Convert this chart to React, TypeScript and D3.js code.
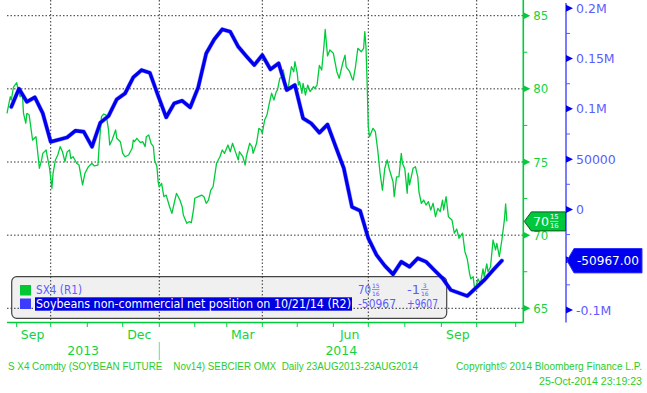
import React from "react";
import * as d3 from "d3";

// ---------------- DATA ----------------
const greenSeries: [string, number][] = [
["2013-08-23",78.33],["2013-08-26",79.46],["2013-08-27",79.24],["2013-08-29",80.11],["2013-09-01",80.42],["2013-09-02",80.04],["2013-09-04",79.46],["2013-09-06",79.70],["2013-09-07",78.33],["2013-09-09",77.65],["2013-09-10",78.33],["2013-09-12",78.21],["2013-09-14",77.07],["2013-09-15",76.50],["2013-09-18",76.73],["2013-09-19",76.05],["2013-09-21",74.57],["2013-09-23",75.14],["2013-09-24",75.59],["2013-09-27",75.82],["2013-09-28",75.36],["2013-09-30",74.57],
["2013-10-02",73.20],["2013-10-03",74.23],["2013-10-05",75.14],["2013-10-07",75.48],["2013-10-09",76.05],["2013-10-11",75.70],["2013-10-13",75.02],["2013-10-15",75.70],["2013-10-17",75.82],["2013-10-18",75.25],["2013-10-20",75.36],["2013-10-23",74.91],["2013-10-25",74.79],["2013-10-28",73.43],["2013-10-30",74.23],["2013-11-02",74.68],["2013-11-05",74.91],["2013-11-07",74.73],["2013-11-10",74.79],["2013-11-11",76.05],["2013-11-13",78.10],["2013-11-15",78.28],["2013-11-17",78.21],["2013-11-19",77.19],["2013-11-20",76.16],["2013-11-22",76.50],["2013-11-25",77.19],["2013-11-26",76.62],["2013-11-29",76.39],["2013-12-01",75.59],["2013-12-03",75.36],["2013-12-06",75.48],["2013-12-09",75.94],["2013-12-10",76.50],["2013-12-11",76.39],["2013-12-13",76.62],["2013-12-16",76.32],["2013-12-18",76.39],["2013-12-20",76.05],["2013-12-21",76.73],["2013-12-23",76.85],["2013-12-25",76.28],["2013-12-27",76.05],["2013-12-28",75.14],["2013-12-30",74.68],["2013-12-31",73.65],
["2014-01-01",73.29],["2014-01-03",73.54],["2014-01-05",72.63],["2014-01-07",72.74],["2014-01-10",71.94],["2014-01-12",71.49],["2014-01-14",72.18],["2014-01-16",72.86],["2014-01-19",72.40],["2014-01-21",71.94],["2014-01-22",71.38],["2014-01-25",70.81],["2014-01-27",70.92],["2014-01-29",70.85],["2014-01-31",71.79],["2014-02-01",72.52],["2014-02-04",72.63],["2014-02-07",72.74],["2014-02-09",72.63],["2014-02-11",72.18],["2014-02-13",72.40],["2014-02-15",73.08],["2014-02-17",73.31],["2014-02-20",74.91],["2014-02-23",75.36],["2014-02-25",75.82],["2014-02-27",75.59],["2014-03-02",76.16],["2014-03-04",75.70],["2014-03-06",76.28],["2014-03-09",75.59],["2014-03-11",75.14],["2014-03-12",75.70],["2014-03-15",75.36],["2014-03-17",74.79],["2014-03-18",75.36],["2014-03-21",76.28],["2014-03-23",76.05],["2014-03-24",75.59],["2014-03-27",76.28],["2014-03-29",77.30],["2014-03-31",77.19],
["2014-04-01",76.96],["2014-04-03",77.87],["2014-04-05",78.21],["2014-04-07",79.01],["2014-04-09",79.70],["2014-04-11",79.24],["2014-04-13",79.81],["2014-04-14",79.92],["2014-04-16",80.72],["2014-04-18",80.83],["2014-04-19",81.29],["2014-04-21",80.38],["2014-04-23",79.92],["2014-04-24",80.49],["2014-04-26",81.51],["2014-04-28",81.17],["2014-04-29",81.86],["2014-05-01",81.06],["2014-05-02",80.26],["2014-05-03",80.49],["2014-05-05",79.70],["2014-05-06",80.38],["2014-05-08",79.58],["2014-05-10",80.26],["2014-05-12",79.81],["2014-05-15",80.15],["2014-05-16",80.04],["2014-05-18",80.26],["2014-05-20",81.60],["2014-05-22",81.29],["2014-05-24",83.00],["2014-05-25",84.06],["2014-05-27",82.25],["2014-05-29",82.66],["2014-06-01",82.43],["2014-06-04",81.17],["2014-06-06",80.72],["2014-06-09",81.75],["2014-06-11",82.31],["2014-06-12",81.51],["2014-06-15",81.17],["2014-06-17",80.72],["2014-06-18",80.60],["2014-06-20",81.51],["2014-06-22",82.77],["2014-06-25",82.54],["2014-06-27",82.77],["2014-06-28",83.91],["2014-06-29",82.88],["2014-06-30",80.38],
["2014-07-01",77.41],["2014-07-02",76.73],["2014-07-05",77.30],["2014-07-07",77.07],["2014-07-09",75.82],["2014-07-11",74.23],["2014-07-13",73.08],["2014-07-15",74.57],["2014-07-17",75.14],["2014-07-19",74.45],["2014-07-22",73.65],["2014-07-23",72.63],["2014-07-25",73.99],["2014-07-27",73.99],["2014-07-29",75.59],["2014-07-30",74.91],["2014-08-01",74.53],["2014-08-03",72.86],["2014-08-04",74.23],["2014-08-05",73.43],["2014-08-08",74.57],["2014-08-10",74.68],["2014-08-12",73.99],["2014-08-13",72.95],["2014-08-15",72.18],["2014-08-17",72.40],["2014-08-19",72.06],["2014-08-21",72.29],["2014-08-23",71.72],["2014-08-25",72.18],["2014-08-27",71.26],["2014-08-29",71.83],["2014-08-31",71.60],["2014-09-02",72.40],["2014-09-03",71.72],["2014-09-05",72.63],["2014-09-07",71.26],["2014-09-10",71.04],["2014-09-12",70.13],["2014-09-14",70.42],["2014-09-16",69.79],["2014-09-19",70.13],["2014-09-21",68.87],["2014-09-23",68.37],["2014-09-25",67.35],["2014-09-26",67.01],["2014-09-28",67.16],["2014-09-29",66.48],["2014-09-30",66.32],["2014-10-02",67.01],["2014-10-04",66.67],["2014-10-06",67.69],["2014-10-07",67.16],["2014-10-09",68.04],["2014-10-10",67.50],["2014-10-12",67.84],["2014-10-14",69.67],["2014-10-16",68.99],["2014-10-17",69.44],["2014-10-19",68.53],["2014-10-21",69.67],["2014-10-23",71.04],["2014-10-24",72.13],["2014-10-25",70.94]
];

const blueDates: string[] = [
"2013-08-27","2013-09-03","2013-09-10","2013-09-17","2013-09-24","2013-10-01","2013-10-08","2013-10-15","2013-10-22","2013-10-29",
"2013-11-05","2013-11-12","2013-11-19","2013-11-26","2013-12-03","2013-12-10","2013-12-17","2013-12-24","2013-12-31","2014-01-07",
"2014-01-14","2014-01-21","2014-01-28","2014-02-04","2014-02-11","2014-02-18","2014-02-25","2014-03-04","2014-03-11","2014-03-18",
"2014-03-25","2014-04-01","2014-04-08","2014-04-15","2014-04-22","2014-04-29","2014-05-06","2014-05-13","2014-05-20","2014-05-27",
"2014-06-03","2014-06-10","2014-06-17","2014-06-24","2014-07-01","2014-07-08","2014-07-15","2014-07-22","2014-07-29","2014-08-05",
"2014-08-12","2014-08-19","2014-08-26","2014-09-02","2014-09-09","2014-09-16","2014-09-23","2014-09-30","2014-10-07","2014-10-14",
"2014-10-21"
];
const blueValues: number[] = [
102000,120000,107000,111500,95600,67300,69500,71700,78300,77300,
62300,86200,92900,109500,115400,131400,138600,135900,113000,91600,
105500,108100,101500,121400,155200,169100,179100,176700,161800,152500,
143600,153500,139300,145300,118700,123700,90600,85600,76300,84400,
62500,40900,2400,-1300,-28700,-45300,-56000,-64500,-52000,-57000,
-48600,-52000,-60300,-68500,-80100,-83100,-86100,-78400,-70200,-60300,
-50967
];

const greenTicks = [65, 70, 75, 80, 85];
const greenMinorTicks = [67.5, 72.5, 77.5, 82.5];
const blueTicks = [-100000, -50000, 0, 50000, 100000, 150000, 200000];
// the -50000 label is hidden behind the last-value callout in the reference
const blueTickLabels = ["-0.1M", "", "0", "50000", "0.1M", "0.15M", "0.2M"];
const blueMinorTicks = [-75000, -25000, 25000, 75000, 125000, 175000];
const gridDates = ["2013-10-01", "2014-01-01", "2014-04-01", "2014-07-01", "2014-10-01"];
const monthLabels: [string, string][] = [["2013-09-15", "Sep"], ["2013-12-15", "Dec"], ["2014-03-15", "Mar"], ["2014-06-15", "Jun"], ["2014-09-15", "Sep"]];
const yearLabels: [string, string, string][] = [["2013-08-23", "2014-01-01", "2013"], ["2014-01-01", "2014-11-07", "2014"]];
const legendNames = ["SX4 (R1)", "Soybeans non-commercial net position on 10/21/14 (R2)"];
const lastGreenText = { whole: "70", num: "15", den: "16" };
const changeGreenText = { whole: "-1", num: "3", den: "16" };
const lastBlueText = "-50967";
const changeBlueText = "+9607";
const lastBlueCallout = "-50967.00";
const footerLeft = "S X4 Comdty (SOYBEAN FUTURE    Nov14) SEBCIER OMX  Daily 23AUG2013-23AUG2014";
const footerRight1 = "Copyright\u00A9 2014 Bloomberg Finance L.P.";
const footerRight2 = "25-Oct-2014 23:19:23";

// ---------------- LAYOUT ----------------
const W = 647, H = 393;
const LEFT = 7, RIGHT = 523.3, TOP = 0, BOTTOM = 322.5;
const BLUE_AXIS_X = 566;
const FONT = "'DejaVu Sans', 'Liberation Sans', Arial, sans-serif";
const SMALL_FONT = "'Liberation Sans', Arial, sans-serif";
const GREEN = "#00cc3a";
const GREEN_TXT = "#16d23c";
const BLUE = "#0000ee";
const BLUE_TXT = "#5c5cff";

const parse = d3.timeParse("%Y-%m-%d");
const P = (s: string) => parse(s) as Date;

const x = d3.scaleTime()
  .domain(["2013-08-23", "2013-09-01", "2013-10-01", "2014-01-01", "2014-04-01", "2014-07-01", "2014-10-01", "2014-11-01", "2014-11-07"].map(P))
  .range([LEFT, 16.7, 50.7, 159.3, 262.3, 368.3, 476.7, 515.7, RIGHT]);
const yG = d3.scaleLinear().domain([65, 85]).range([308.3, 15.7]);
const yB = d3.scaleLinear().domain([-100000, 200000]).range([310, 8.3]);

const greenLine = d3.line<[string, number]>().x(d => x(P(d[0]))).y(d => yG(d[1]));
const blueData = blueDates.map((d, i) => ({ date: P(d), v: blueValues[i] }));
const blueLine = d3.line<{ date: Date; v: number }>().x(d => x(d.date)).y(d => yB(d.v));

const months = d3.timeMonth.range(P("2013-09-01"), P("2014-11-02"));

function Frac({ x0, y0, whole, num, den, fill, size, wholeW, fsK, up, down }: any) {
  const fx = x0 + wholeW + 1;
  const fs = size * fsK;
  const fw = fs * 0.62 * den.length;
  return (
    <g fill={fill}>
      <text x={x0} y={y0} fontSize={size} dominantBaseline="central" textLength={wholeW} lengthAdjust="spacingAndGlyphs">{whole}</text>
      <text x={fx + fw / 2} y={y0 - size * up} fontSize={fs} textAnchor="middle" dominantBaseline="central">{num}</text>
      <line x1={fx} x2={fx + fw} y1={y0} y2={y0} stroke={fill} strokeWidth={0.7} />
      <text x={fx + fw / 2} y={y0 + size * down} fontSize={fs} textAnchor="middle" dominantBaseline="central">{den}</text>
    </g>
  );
}

export default function App() {
  const lastG = greenSeries[greenSeries.length - 1][1];
  const lastB = blueValues[blueValues.length - 1];
  const gy = yG(lastG);
  const by = yB(lastB);
  return (
    <svg width={W} height={H} style={{ position: "absolute", left: 0, top: 0, background: "#fff" }} fontFamily={FONT}>
      <rect x={0} y={0} width={W} height={H} fill="#fff" />
      {/* legend background */}
      <rect x={11.7} y={276.7} width={435} height={41.6} rx={5} fill="#f0f0f0" stroke="#444" strokeWidth={1.2} />
      {/* gridlines */}
      <g stroke="#333" strokeWidth={1} strokeDasharray="1.5,2">
        {greenTicks.map(t => <line key={"h" + t} x1={LEFT} x2={RIGHT} y1={yG(t)} y2={yG(t)} />)}
        {gridDates.map(d => <line key={"v" + d} x1={x(P(d))} x2={x(P(d))} y1={TOP} y2={BOTTOM} />)}
      </g>
      {/* legend content */}
      <rect x={20} y={285} width={11} height={10.5} fill="#00c832" />
      <rect x={20} y={298.5} width={11} height={10.5} fill="#3c3cff" />
      <rect x={35} y={297.3} width={317} height={13.4} fill="#0000e0" />
      <text x={36} y={290.3} fontSize={11.5} fill={BLUE_TXT} dominantBaseline="central" textLength={46} lengthAdjust="spacingAndGlyphs">{legendNames[0]}</text>
      <text x={36} y={304.4} fontSize={11.5} fill="#fff" dominantBaseline="central" textLength={315} lengthAdjust="spacingAndGlyphs">{legendNames[1]}</text>
      <Frac x0={358} y0={289.5} {...lastGreenText} fill={BLUE_TXT} size={12} wholeW={13} fsK={0.5} up={0.3} down={0.31} />
      <Frac x0={407} y0={289.5} {...changeGreenText} fill={BLUE_TXT} size={12} wholeW={13} fsK={0.5} up={0.3} down={0.31} />
      <text x={358} y={304.4} fontSize={11.5} fill={BLUE_TXT} dominantBaseline="central" textLength={38} lengthAdjust="spacingAndGlyphs">{lastBlueText}</text>
      <text x={407} y={304.4} fontSize={11.5} fill={BLUE_TXT} dominantBaseline="central" textLength={31} lengthAdjust="spacingAndGlyphs">{changeBlueText}</text>
      {/* series */}
      <path d={greenLine(greenSeries) as string} fill="none" stroke={GREEN} strokeWidth={1.3} strokeLinejoin="round" />
      <path d={blueLine(blueData) as string} fill="none" stroke="#4848ff" strokeOpacity={0.5} strokeWidth={4.4} strokeLinejoin="round" strokeLinecap="round" />
      <path d={blueLine(blueData) as string} fill="none" stroke={BLUE} strokeWidth={3.4} strokeLinejoin="round" strokeLinecap="round" />
      {/* bottom axis */}
      <line x1={LEFT} x2={RIGHT} y1={BOTTOM} y2={BOTTOM} stroke={GREEN} strokeWidth={1.6} />
      {months.map(m => (
        <line key={+m} x1={x(m)} x2={x(m)} y1={BOTTOM} y2={BOTTOM + 4.5} stroke={GREEN} strokeWidth={1} />
      ))}
      {monthLabels.map(([d, l], i) => (
        <text key={i} x={x(P(d))} y={334.5} fontSize={12.5} fill={GREEN_TXT} textAnchor="middle" dominantBaseline="central">{l}</text>
      ))}
      {yearLabels.map(([a, b, l]) => (
        <text key={l} x={(x(P(a)) + x(P(b))) / 2} y={350.5} fontSize={12.5} fill={GREEN_TXT} textAnchor="middle" dominantBaseline="central">{l}</text>
      ))}
      <line x1={x(P("2014-01-01"))} x2={x(P("2014-01-01"))} y1={342} y2={360} stroke={GREEN} strokeOpacity={0.6} strokeWidth={1} />
      {/* green axis */}
      <line x1={RIGHT} x2={RIGHT} y1={TOP} y2={BOTTOM} stroke={GREEN} strokeWidth={1.6} />
      {greenTicks.map(t => (
        <g key={t}>
          <path d={`M${RIGHT},${yG(t) - 3.5}L${RIGHT + 7},${yG(t)}L${RIGHT},${yG(t) + 3.5}Z`} fill={GREEN} />
          <text x={RIGHT + 10} y={yG(t)} fontSize={13} fill={GREEN_TXT} dominantBaseline="central" textLength={15} lengthAdjust="spacingAndGlyphs">{t}</text>
        </g>
      ))}
      {greenMinorTicks.map(t => <line key={t} x1={RIGHT} x2={RIGHT + 4} y1={yG(t)} y2={yG(t)} stroke={GREEN} strokeWidth={1} />)}
      {/* blue axis */}
      <line x1={BLUE_AXIS_X} x2={BLUE_AXIS_X} y1={3} y2={BOTTOM} stroke="#5a5aff" strokeWidth={1.6} />
      {blueTicks.map((t, i) => (
        <g key={t}>
          <path d={`M${BLUE_AXIS_X},${yB(t) - 3.5}L${BLUE_AXIS_X + 7},${yB(t)}L${BLUE_AXIS_X},${yB(t) + 3.5}Z`} fill={BLUE} />
          {blueTickLabels[i] && (
            <text x={BLUE_AXIS_X + 10} y={yB(t)} fontSize={12.5} fill={BLUE_TXT} dominantBaseline="central">{blueTickLabels[i]}</text>
          )}
        </g>
      ))}
      {blueMinorTicks.map(t => <line key={t} x1={BLUE_AXIS_X} x2={BLUE_AXIS_X + 4} y1={yB(t)} y2={yB(t)} stroke="#5a5aff" strokeWidth={1} />)}
      {/* callouts */}
      <path d={`M${RIGHT + 1},${gy}L${RIGHT + 8},${gy - 9.5}L${BLUE_AXIS_X - 0.5},${gy - 9.5}L${BLUE_AXIS_X - 0.5},${gy + 9.5}L${RIGHT + 8},${gy + 9.5}Z`} fill="#00c83c" stroke="#0a5a1a" strokeWidth={1} />
      <Frac x0={533} y0={gy} {...lastGreenText} fill="#fff" size={13} wholeW={16} fsK={0.52} up={0.32} down={0.34} />
      <path d={`M${BLUE_AXIS_X + 1},${by}L${BLUE_AXIS_X + 8},${by - 12.2}L${642},${by - 12.2}L${642},${by + 12.2}L${BLUE_AXIS_X + 8},${by + 12.2}Z`} fill={BLUE} stroke="#3030ff" strokeWidth={1} strokeLinejoin="round" />
      <text x={577} y={by} fontSize={13} fill="#fff" dominantBaseline="central" textLength={62} lengthAdjust="spacingAndGlyphs">{lastBlueCallout}</text>
      {/* footer */}
      <g fontFamily={SMALL_FONT} fontSize={10} fill="#2ccc2c">
        <text x={8} y={366} dominantBaseline="central" style={{ whiteSpace: "pre" }} textLength={410} lengthAdjust="spacingAndGlyphs">{footerLeft}</text>
        <text x={456} y={366} dominantBaseline="central" textLength={186} lengthAdjust="spacingAndGlyphs">{footerRight1}</text>
        <text x={539} y={381} dominantBaseline="central" textLength={103} lengthAdjust="spacingAndGlyphs">{footerRight2}</text>
      </g>
    </svg>
  );
}
